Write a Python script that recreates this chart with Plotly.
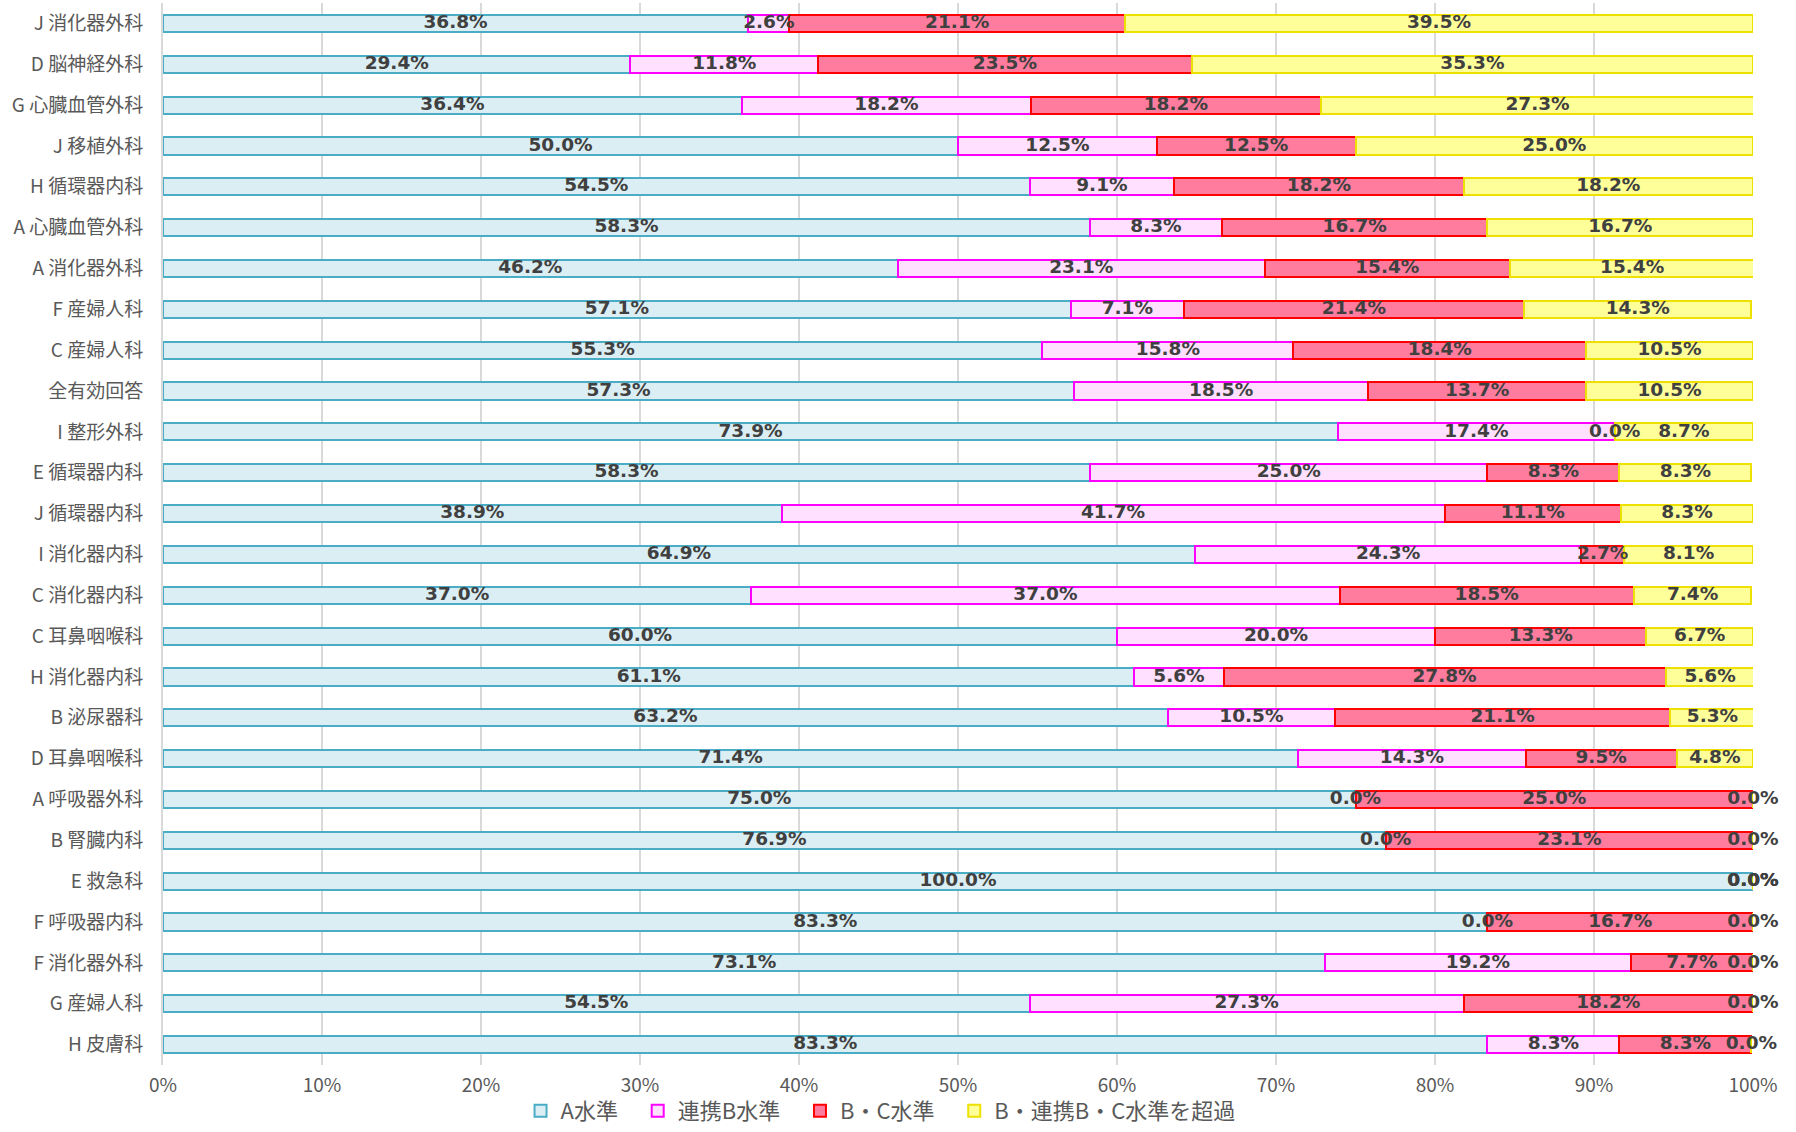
import plotly.graph_objects as go

categories = [
    "J 消化器外科", "D 脳神経外科", "G 心臓血管外科", "J 移植外科", "H 循環器内科",
    "A 心臓血管外科", "A 消化器外科", "F 産婦人科", "C 産婦人科", "全有効回答",
    "I 整形外科", "E 循環器内科", "J 循環器内科", "I 消化器内科", "C 消化器内科",
    "C 耳鼻咽喉科", "H 消化器内科", "B 泌尿器科", "D 耳鼻咽喉科", "A 呼吸器外科",
    "B 腎臓内科", "E 救急科", "F 呼吸器内科", "F 消化器外科", "G 産婦人科", "H 皮膚科",
]

level_a = [36.8, 29.4, 36.4, 50.0, 54.5, 58.3, 46.2, 57.1, 55.3, 57.3,
           73.9, 58.3, 38.9, 64.9, 37.0, 60.0, 61.1, 63.2, 71.4, 75.0,
           76.9, 100.0, 83.3, 73.1, 54.5, 83.3]
level_rb = [2.6, 11.8, 18.2, 12.5, 9.1, 8.3, 23.1, 7.1, 15.8, 18.5,
            17.4, 25.0, 41.7, 24.3, 37.0, 20.0, 5.6, 10.5, 14.3, 0.0,
            0.0, 0.0, 0.0, 19.2, 27.3, 8.3]
level_bc = [21.1, 23.5, 18.2, 12.5, 18.2, 16.7, 15.4, 21.4, 18.4, 13.7,
            0.0, 8.3, 11.1, 2.7, 18.5, 13.3, 27.8, 21.1, 9.5, 25.0,
            23.1, 0.0, 16.7, 7.7, 18.2, 8.3]
level_over = [39.5, 35.3, 27.3, 25.0, 18.2, 16.7, 15.4, 14.3, 10.5, 10.5,
              8.7, 8.3, 8.3, 8.1, 7.4, 6.7, 5.6, 5.3, 4.8, 0.0,
              0.0, 0.0, 0.0, 0.0, 0.0, 0.0]

series_names = ["A水準", "連携B水準", "B・C水準", "B・連携B・C水準を超過"]
series_values = [level_a, level_rb, level_bc, level_over]
fill_colors = ["#DAEEF3", "#FFE0FF", "#FF7C9E", "#FFFF99"]
line_colors = ["#4BACC6", "#FF00FF", "#FF0000", "#EEE000"]

x_tick_vals = [i / 10 for i in range(11)]
x_tick_text = [f"{i * 10}%" for i in range(11)]

fig = go.Figure()
for name, vals, fc, lc in zip(series_names, series_values, fill_colors, line_colors):
    fig.add_trace(go.Bar(
        name=name + "\u00a0" * 3,
        y=categories,
        x=[v / 100 for v in vals],
        orientation="h",
        marker=dict(color=fc, line=dict(color=lc, width=2)),
        hoverinfo="skip",
    ))

# data labels at the centre of each segment
lab_x, lab_y, lab_t = [], [], []
for i, cat in enumerate(categories):
    cum = 0.0
    for vals in series_values:
        v = vals[i]
        lab_x.append((cum + v / 2) / 100)
        lab_y.append(cat)
        lab_t.append(f"{v:.1f}%")
        cum += v
fig.add_trace(go.Scatter(
    x=lab_x, y=lab_y, text=lab_t, mode="text",
    textposition="middle center",
    textfont=dict(family="DejaVu Sans", size=18.5, color="#404040", weight="bold"),
    showlegend=False, hoverinfo="skip", cliponaxis=False,
))

n = len(categories)
fig.update_layout(
    width=1796, height=1132,
    barmode="stack",
    bargap=0.58,
    paper_bgcolor="white",
    plot_bgcolor="white",
    margin=dict(l=163, r=43, t=3, b=67),
    font=dict(family="Noto Sans CJK JP", color="#595959"),
    showlegend=True,
    legend=dict(
        orientation="h",
        x=0.456, xanchor="center",
        yref="container",
        y=0.0, yanchor="bottom",
        bgcolor="rgba(0,0,0,0)",
        font=dict(family="Noto Sans CJK JP", size=22, color="#595959"),
        itemsizing="constant",
        traceorder="normal",
    ),
    xaxis=dict(
        range=[0, 1],
        tickvals=x_tick_vals,
        ticktext=x_tick_text,
        showgrid=True,
        gridcolor="#D9D9D9",
        gridwidth=2,
        zeroline=False,
        tickfont=dict(family="Noto Sans CJK JP", size=19, color="#595959"),
        ticklabelstandoff=7,
        automargin=False,
        fixedrange=True,
    ),
    yaxis=dict(
        categoryorder="array",
        categoryarray=categories,
        range=[n - 0.5, -0.5],
        showline=True,
        linecolor="#D9D9D9",
        linewidth=2,
        showgrid=False,
        tickfont=dict(family="Noto Sans CJK JP", size=19, color="#595959"),
        ticklabelstandoff=14,
        automargin=False,
        fixedrange=True,
    ),
)

fig.write_html(
    "out.html",
    config={"displayModeBar": False},
    post_script="document.body.style.margin='0px';",
)
